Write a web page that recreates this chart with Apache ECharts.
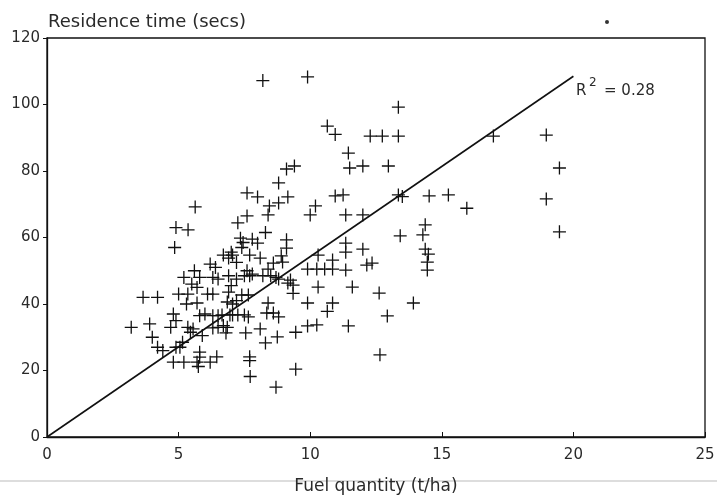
<!DOCTYPE html>
<html>
<head>
<meta charset="utf-8">
<script src="https://cdn.jsdelivr.net/npm/echarts@6/dist/echarts.min.js"></script>
<style>html,body{margin:0;padding:0;background:#fff;}#c{width:717px;height:495px;}</style>
</head>
<body>
<div id="c"></div>
<script>
// Fuel quantity (t/ha)
const fuelQuantity = [
 3.2,3.65,4.2,3.9,4.0,4.2,4.4,4.7,4.8,4.9,4.8,4.9,4.85,4.9,5.0,5.2,
 5.35,5.36,5.63,5.05,5.15,5.35,5.45,5.55,5.2,5.7,5.75,5.8,5.8,6.2,6.45,5.7,5.8,5.6,5.8,5.5,6.1,6.3,6.4,6.3,6.3,6.5,6.3,6.5,6.7,5.9,6.0,6.5,6.2,5.3,5.7,
 6.7,7.05,7.2,7.25,7.6,7.6,8.0,7.35,7.45,7.4,7.0,6.9,7.7,8.1,6.9,6.85,7.05,7.2,6.65,6.95,7.05,6.85,6.8,7.25,7.5,7.65,7.4,7.65,7.55,7.7,7.7,7.72,7.5,7.7,7.8,7.6,7.2,6.9,7.8,7.0,
 8.2,8.3,8.0,8.45,8.4,8.8,8.8,9.15,9.1,9.4,9.1,9.1,8.6,8.95,8.2,8.5,8.7,8.4,8.8,9.25,9.15,9.35,9.35,8.4,8.35,8.6,8.8,8.1,8.3,8.75,9.45,8.7,9.45,8.9,
 9.9,10.65,10.95,11.45,11.5,10.95,11.25,10.2,10.0,11.35,12.0,11.35,11.35,12.0,10.3,10.85,9.9,10.25,10.55,10.85,11.35,12.15,12.35,10.3,11.6,9.9,10.85,10.65,9.9,10.25,11.45,
 12.28,12.74,13.35,13.35,12.0,12.97,13.35,13.5,14.52,15.25,15.95,16.96,18.97,19.47,18.97,19.47,14.37,14.28,13.42,14.37,14.49,14.45,14.45,12.62,13.92,12.93,12.65
];
// Residence time (secs)
const residenceTime = [
 33,42,42,34,30,27,26,33,37,35,22.5,63,57,27,43,48,
 43,62.3,69.2,27,28.5,33,31.5,32.5,22.5,22.5,21.2,25.5,24,22.5,24.1,40.3,36.5,50,48,46,43,43,51,48,36.5,36.5,32.8,33,33.5,30.5,37,47.5,52,40,45,
 54.7,54.7,52.5,64.4,66.5,73.4,72.2,59.8,58.5,57,55.6,53.8,54.7,53.8,43.6,40.6,40,41,36.7,36.7,36.7,33,31.3,36.7,36.7,36.1,42.7,42.7,31.3,24.1,23,18.2,48.5,48.5,49,50,47.5,48.5,59.5,45.5,
 107.2,61.5,58.3,69.5,66.8,70.4,76.4,72.2,80.6,81.5,59.3,56.8,52.3,52.6,48.5,48.5,48,50.5,47.5,47.2,46.3,45.7,43.2,40.3,37.3,37.3,36.1,32.5,28.3,30.1,31.5,15,20.4,54.5,
 108.3,93.5,91,85.4,80.9,72.5,72.8,69.5,66.8,66.8,66.8,58.3,55.6,56.5,54.7,53.2,50.5,50.5,50.5,50.5,50.2,51.7,52.3,45.1,45.1,40.3,40.3,37.8,33.4,33.7,33.4,
 90.5,90.5,90.5,99.2,81.5,81.5,72.8,72.3,72.5,72.8,68.8,90.5,90.8,80.9,71.6,61.7,63.8,60.8,60.5,56.5,55.0,52.6,50.2,43.3,40.3,36.4,24.7
];
// Regression line end points
const fitX = [0, 20];
const fitY = [0, 108.5];
const xTicks = [0, 25, 5];
const yTicks = [0, 120, 20];

const chart = echarts.init(document.getElementById('c'), null, {renderer: 'canvas'});
const pts = fuelQuantity.map((x, i) => [x, residenceTime[i]]);
const fit = fitX.map((x, i) => [x, fitY[i]]);
const plus = 'path://M4.5,0 H5.5 V4.5 H10 V5.5 H5.5 V10 H4.5 V5.5 H0 V4.5 H4.5 Z';
const font = 'DejaVu Sans';
chart.setOption({
  animation: false,
  backgroundColor: '#fff',
  grid: {left: 47, right: 12, top: 38, bottom: 58, containLabel: false, outerBoundsMode: 'none', show: true, borderColor: '#111', borderWidth: 1.3, backgroundColor: 'transparent'},
  title: {text: 'Residence time (secs)', left: 43, top: 8, textStyle: {fontFamily: font, fontSize: 18, fontWeight: 'normal', color: '#2a2a2a'}},
  xAxis: {
    type: 'value', min: xTicks[0], max: xTicks[1], interval: xTicks[2],
    name: 'Fuel quantity (t/ha)', nameLocation: 'middle', nameGap: 41,
    nameTextStyle: {fontFamily: font, fontSize: 17, color: '#2a2a2a'},
    axisLine: {show: true, lineStyle: {color: '#111', width: 1.3}},
    axisTick: {show: true, inside: true, length: 5, lineStyle: {color: '#111', width: 1}},
    axisLabel: {fontFamily: font, fontSize: 15, color: '#2a2a2a', margin: 11},
    splitLine: {show: false}
  },
  yAxis: {
    type: 'value', min: yTicks[0], max: yTicks[1], interval: yTicks[2],
    axisLine: {show: true, lineStyle: {color: '#111', width: 1.3}},
    axisTick: {show: true, inside: false, length: 4, lineStyle: {color: '#111', width: 1}},
    axisLabel: {fontFamily: font, fontSize: 15, color: '#2a2a2a', margin: 7},
    splitLine: {show: false}
  },
  series: [
    {type: 'scatter', data: pts, symbol: plus, symbolSize: 13, itemStyle: {color: '#111', opacity: 1}, z: 3},
    {type: 'line', data: fit, showSymbol: false, symbol: 'none', lineStyle: {color: '#111', width: 1.6}, z: 4}
  ],
  graphic: [
    {type: 'text', left: 576, top: 84, style: {text: 'R', font: '15px "DejaVu Sans"', fill: '#2a2a2a'}},
    {type: 'text', left: 589, top: 77, style: {text: '2', font: '12px "DejaVu Sans"', fill: '#2a2a2a'}},
    {type: 'text', left: 604, top: 84, style: {text: '= 0.28', font: '15px "DejaVu Sans"', fill: '#2a2a2a'}},
    {type: 'line', shape: {x1: 0, y1: 481, x2: 717, y2: 481}, style: {stroke: '#bbb', lineWidth: 1}, z: -1},
    {type: 'circle', shape: {cx: 607, cy: 22, r: 2}, style: {fill: '#333'}}
  ]
});
</script>
</body>
</html>
